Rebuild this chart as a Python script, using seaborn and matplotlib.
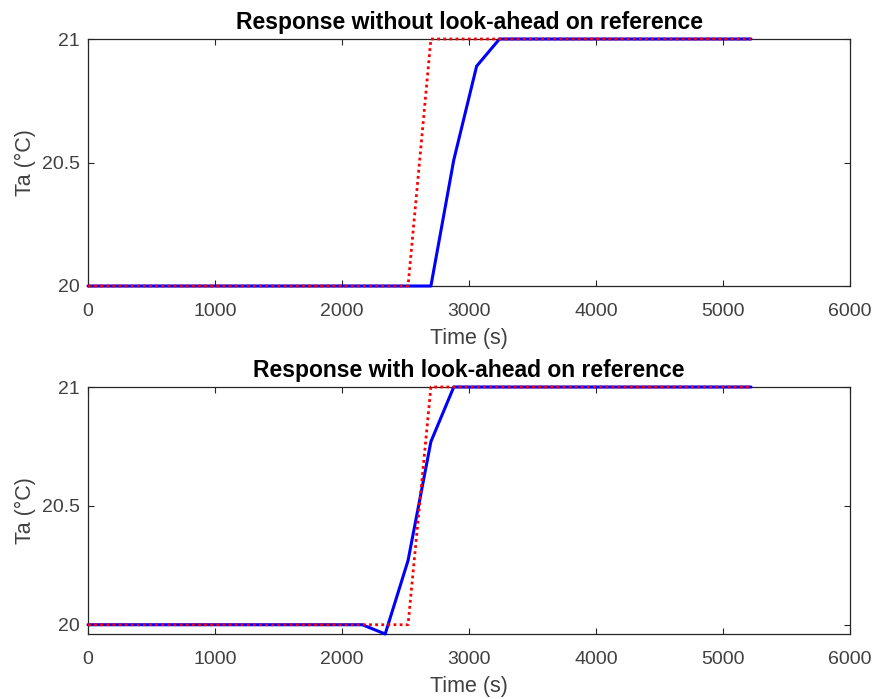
import matplotlib
matplotlib.use("Agg")
import matplotlib.pyplot as plt
import seaborn as sns
import pandas as pd
import numpy as np

# ---- data ----
time_ref = [0, 2520, 2700, 5220]
ref_vals = [20, 20, 21, 21]

time_nola = [0, 2700, 2880, 3060, 3240, 5220]
ta_nola = [20, 20, 20.51, 20.89, 21, 21]

time_la = [0, 2160, 2340, 2520, 2700, 2880, 5220]
ta_la = [20, 20, 19.961, 20.27, 20.77, 21, 21]

titles = ["Response without look-ahead on reference",
          "Response with look-ahead on reference"]
xticks = [0, 1000, 2000, 3000, 4000, 5000, 6000]
yticks = [20, 20.5, 21]
ytick_labels = ["20", "20.5", "21"]
xlabel = "Time (s)"
ylabel = "Ta (°C)"

sns.set_theme(style="white")
plt.rcParams['font.family'] = ['Liberation Sans', 'DejaVu Sans']

fig = plt.figure(figsize=(8.75, 6.99), dpi=100)
W, H = 875, 699
def ax_rect(l, t, r, b):
    return [l / W, 1 - b / H, (r - l) / W, (b - t) / H]

axes = [fig.add_axes(ax_rect(88, 39, 850, 286)),
        fig.add_axes(ax_rect(88, 387, 850, 634))]

ylims = [(20, 21), (19.961, 21)]
resp = [(time_nola, ta_nola), (time_la, ta_la)]
axc = '0.15'
tickc = '0.25'

for i, ax in enumerate(axes):
    df_resp = pd.DataFrame({"t": resp[i][0], "ta": resp[i][1]})
    df_ref = pd.DataFrame({"t": time_ref, "ta": ref_vals})
    sns.lineplot(data=df_resp, x="t", y="ta", ax=ax, color=(0, 0, 1),
                 linewidth=2.2, sort=False, clip_on=False, zorder=5)
    sns.lineplot(data=df_ref, x="t", y="ta", ax=ax, color=(1, 0, 0),
                 linewidth=2.0, linestyle=(0, (1, 1.2)), sort=False,
                 clip_on=False, zorder=6)
    ax.set_xlim(0, 6000)
    ax.set_ylim(*ylims[i])
    ax.set_xticks(xticks)
    ax.set_xticklabels([str(x) for x in xticks])
    ax.set_yticks(yticks)
    ax.set_yticklabels(ytick_labels)
    ax.tick_params(direction='in', length=4, width=0.8, colors=axc,
                   labelsize=14, top=True, right=True, bottom=True, left=True,
                   labelcolor=tickc)
    ax.tick_params(axis='x', pad=12)
    ax.tick_params(axis='y', pad=6)
    for s in ax.spines.values():
        s.set_color(axc)
        s.set_linewidth(0.9)
    ax.set_xlabel(xlabel, fontsize=15.5, color=tickc, labelpad=6)
    ax.set_ylabel(ylabel, fontsize=15.5, color=tickc, labelpad=4)
    ax.set_title(titles[i], fontsize=16.5, fontweight='bold', color='black', pad=7)

fig.savefig("out.png", dpi=100)
